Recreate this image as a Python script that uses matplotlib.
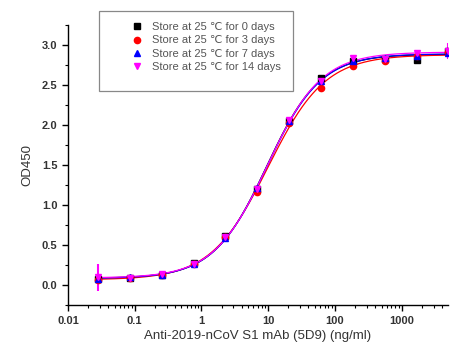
import numpy as np
import matplotlib
matplotlib.use("Agg")
import matplotlib.pyplot as plt
from matplotlib.patches import Rectangle

plt.rcParams["font.family"] = ["Liberation Sans", "DejaVu Sans"]

conc = [0.0282, 0.0847, 0.254, 0.762, 2.29, 6.86, 20.6, 61.7, 185, 556, 1667, 5000]

labels = ["Store at 25 \u2103 for 0 days", "Store at 25 \u2103 for 3 days",
          "Store at 25 \u2103 for 7 days", "Store at 25 \u2103 for 14 days"]
day0 = [0.08, 0.09, 0.13, 0.28, 0.61, 1.20, 2.05, 2.59, 2.80, 2.83, 2.82, 2.93]
day3 = [0.07, 0.09, 0.13, 0.27, 0.60, 1.17, 2.03, 2.47, 2.74, 2.80, 2.86, 2.92]
day7 = [0.08, 0.10, 0.13, 0.27, 0.59, 1.21, 2.05, 2.55, 2.80, 2.84, 2.87, 2.90]
day14 = [0.10, 0.09, 0.14, 0.27, 0.60, 1.20, 2.07, 2.55, 2.84, 2.83, 2.90, 2.93]
err0 = [0.03, 0.01, 0.01, 0.02, 0.02, 0.02, 0.02, 0.03, 0.02, 0.02, 0.03, 0.03]
err3 = [0.02, 0.01, 0.01, 0.01, 0.02, 0.02, 0.02, 0.03, 0.03, 0.02, 0.02, 0.03]
err7 = [0.03, 0.01, 0.01, 0.01, 0.02, 0.02, 0.02, 0.02, 0.02, 0.02, 0.02, 0.03]
err14 = [0.17, 0.02, 0.02, 0.02, 0.02, 0.02, 0.02, 0.03, 0.04, 0.03, 0.04, 0.10]

series = [day0, day3, day7, day14]
errors = [err0, err3, err7, err14]
colors = ["black", "red", "blue", "magenta"]
markers = ["s", "o", "^", "v"]


def logistic4(x, p):
    a, d, logc, b = p
    return d + (a - d) / (1 + (x / 10 ** logc) ** b)


def fit4pl(x, y):
    # small Levenberg-Marquardt, numpy only
    x = np.asarray(x, float)
    y = np.asarray(y, float)
    p = np.array([y.min(), y.max(), 1.0, 1.0])
    lam = 1e-2
    for _ in range(300):
        r = y - logistic4(x, p)
        J = np.empty((len(x), 4))
        for k in range(4):
            dp = np.zeros(4)
            dp[k] = 1e-6
            J[:, k] = (logistic4(x, p + dp) - logistic4(x, p)) / 1e-6
        A = J.T @ J
        step = np.linalg.solve(A + lam * np.diag(np.diag(A)), J.T @ r)
        if np.sum((y - logistic4(x, p + step)) ** 2) < np.sum(r ** 2):
            p = p + step
            lam *= 0.5
        else:
            lam *= 4
    return p


W, H = 456, 354
fig = plt.figure(figsize=(W / 100, H / 100), dpi=100)
ax = fig.add_axes([0.149, 0.138, 0.833, 0.791])

xs = np.logspace(np.log10(conc[0]), np.log10(conc[-1]), 300)
handles = []
for y, e, c, m, lab in zip(series, errors, colors, markers, labels):
    p = fit4pl(conc, y)
    ax.plot(xs, logistic4(xs, p), color=c, lw=0.9, zorder=2)
    ax.errorbar(conc, y, yerr=e, fmt="none", ecolor=c, elinewidth=1.5, zorder=3)
    h, = ax.plot(conc, y, ls="none", marker=m, color=c, markersize=4.5, zorder=4, label=lab)
    handles.append(h)

ax.set_xscale("log")
ax.set_xlim(0.01, 4900)
ax.set_ylim(-0.24, 3.25)
ax.set_yticks([0, 0.5, 1.0, 1.5, 2.0, 2.5, 3.0])
ax.set_yticks(np.arange(-0.25, 3.3, 0.25), minor=True)
ax.set_xticks([0.01, 0.1, 1, 10, 100, 1000])
ax.set_xticklabels(["0.01", "0.1", "1", "10", "100", "1000"])
ax.yaxis.set_major_formatter(matplotlib.ticker.FormatStrFormatter("%.1f"))

for s in ["top", "right"]:
    ax.spines[s].set_visible(False)
for s in ["left", "bottom"]:
    ax.spines[s].set_linewidth(1.0)
ax.tick_params(which="major", direction="out", length=4, width=1.0,
               labelsize=8, labelcolor="#333333")
ax.tick_params(which="minor", direction="out", length=2.5, width=0.8)
for t in ax.get_xticklabels() + ax.get_yticklabels():
    t.set_fontweight("bold")

ax.set_xlabel("Anti-2019-nCoV S1 mAb (5D9) (ng/ml)", fontsize=9.5, color="#333333", labelpad=3)
ax.set_ylabel("OD450", fontsize=9.5, color="#333333", labelpad=6)

# legend box drawn separately so the padding can match the reference
box = Rectangle((99 / W, 1 - 91 / H), 194 / W, 80 / H, transform=fig.transFigure,
                facecolor="white", edgecolor="#888888", lw=0.9, zorder=3)
fig.add_artist(box)
leg = fig.legend(handles=handles, loc="upper left", bbox_to_anchor=(126 / W, 1 - 22 / H),
                 fontsize=8, frameon=False, handletextpad=0.35, borderpad=0,
                 labelspacing=0.31, handlelength=2.0, borderaxespad=0)
leg.set_zorder(4)
for t in leg.get_texts():
    t.set_color("#555555")

fig.savefig("out.png", dpi=100)
